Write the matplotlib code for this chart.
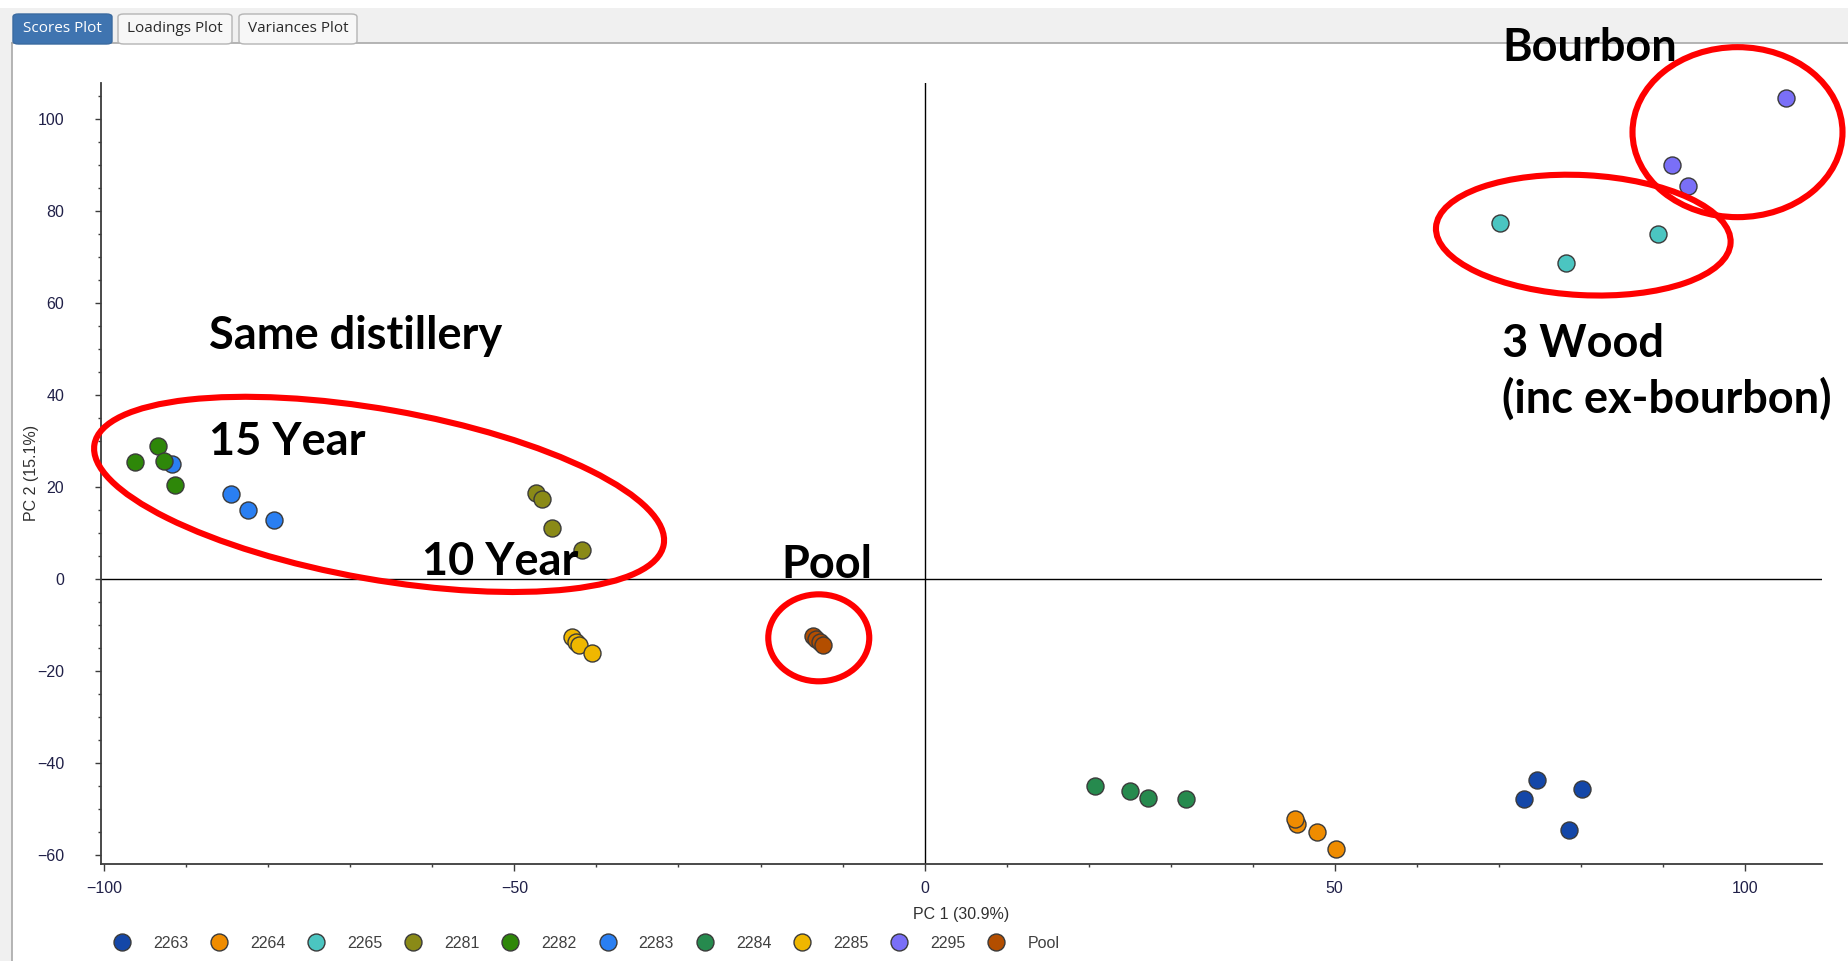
import matplotlib
matplotlib.use("Agg")
import matplotlib.pyplot as plt
from matplotlib.patches import Ellipse, Rectangle, FancyBboxPatch
from matplotlib.lines import Line2D
from matplotlib.transforms import IdentityTransform

W, H = 1849, 961

# sample groups, legend order
groups = ['2263', '2264', '2265', '2281', '2282', '2283', '2284', '2285', '2295', 'Pool']
colors = ['#1447a8', '#ef8c00', '#4bc5c1', '#8a8a17', '#2e8709',
          '#2a7ff2', '#268a4e', '#efb700', '#7a6ff7', '#b34e00']

# PCA scores per group
pc1 = [
    [74.7, 80.2, 73.1, 78.6],
    [45.4, 45.1, 47.8, 50.1],
    [70.1, 78.2, 89.4],
    [-47.4, -46.6, -45.4, -41.8],
    [-96.3, -93.5, -92.7, -91.4],
    [-91.8, -84.5, -82.5, -79.3],
    [20.8, 25.1, 27.2, 31.9],
    [-43.0, -42.5, -42.1, -40.5],
    [105.0, 91.1, 93.1],
    [-13.6, -13.2, -12.8, -12.4],
]
pc2 = [
    [-43.8, -45.6, -47.9, -54.6],
    [-53.3, -52.3, -55.1, -58.7],
    [77.4, 68.7, 75.1],
    [18.7, 17.4, 11.0, 6.4],
    [25.4, 29.0, 25.6, 20.5],
    [25.1, 18.5, 15.1, 12.8],
    [-45.1, -46.2, -47.7, -47.9],
    [-12.6, -13.8, -14.4, -16.2],
    [104.6, 90.0, 85.4],
    [-12.3, -13.1, -13.8, -14.4],
]

# circled clusters: centre (data), width/height in pixels, angle
rings_center = [(-66.5, 18.4), (-12.9, -12.8), (80.3, 74.8), (99.1, 97.2)]
rings_size = [(578, 170), (101, 87), (295, 120), (210, 170)]
rings_angle = [-10, 0, -3, 0]

# annotations: text, x, y (data, left/baseline)
notes = ['Bourbon', '3 Wood', '(inc ex-bourbon)', 'Same distillery', '15 Year', '10 Year', 'Pool']
notes_x = [70.4, 70.4, 70.4, -87.2, -87.2, -61.3, -17.5]
notes_y = [112.6, 48.2, 36.1, 50.0, 26.9, 0.8, 0.3]

tabs = ['Scores Plot', 'Loadings Plot', 'Variances Plot']

plt.rcParams['font.family'] = ['Liberation Sans', 'DejaVu Sans']

fig = plt.figure(figsize=(W / 100, H / 100), dpi=100)
fig.patch.set_facecolor('white')


def px(x0, y0, x1, y1):
    # pixel box (y down) -> figure fraction rect
    return (x0 / W, 1 - y1 / H), (x1 - x0) / W, (y1 - y0) / H


# window chrome: tab strip and panel border, kept behind the axes
xy, w, h = px(0, 8, W, 43)
fig.add_artist(Rectangle(xy, w, h, transform=fig.transFigure, color='#f0f0f0', lw=0, zorder=-5))
xy, w, h = px(0, 43, 12, H)
fig.add_artist(Rectangle(xy, w, h, transform=fig.transFigure, color='#f0f0f0', lw=0, zorder=-5))
fig.add_artist(Line2D([12 / W, 1], [1 - 43 / H, 1 - 43 / H], transform=fig.transFigure,
                      color='#a8a8a8', lw=1.2, zorder=-4))
fig.add_artist(Line2D([12 / W, 12 / W], [0, 1 - 43 / H], transform=fig.transFigure,
                      color='#a8a8a8', lw=1.2, zorder=-4))

tab_boxes = [(13, 112), (118, 232), (239, 357)]
for k, (name, (x0, x1)) in enumerate(zip(tabs, tab_boxes)):
    xy, w, h = px(x0, 14, x1, 44)
    sel = k == 0
    fig.add_artist(FancyBboxPatch(xy, w, h, boxstyle='round,pad=0,rounding_size=0.003',
                                  transform=fig.transFigure, zorder=-3,
                                  facecolor='#3f74b0' if sel else '#f7f7f7',
                                  edgecolor='#3a6aa0' if sel else '#b4b4b4', lw=1))
    fig.text((x0 + x1) / 2 / W, 1 - 29 / H, name, ha='center', va='center',
             fontsize=11, family=['Open Sans', 'DejaVu Sans'], zorder=-2,
             color='white' if sel else '#2a2a2a')

ax = fig.add_axes([101 / W, 1 - 864 / H, (1822 - 101) / W, (864 - 82.5) / H])
ax.set_xlim(-100.4, 109.4)
ax.set_ylim(-62.0, 108.0)

for sp in ['top', 'right']:
    ax.spines[sp].set_visible(False)
for sp in ['left', 'bottom']:
    ax.spines[sp].set_color('#3c3c3c')
    ax.spines[sp].set_linewidth(1.3)

ax.axhline(0, color='black', lw=1, zorder=1)
ax.axvline(0, color='black', lw=1, zorder=1)

ax.set_xticks([-100, -50, 0, 50, 100])
ax.set_xticks(range(-100, 110, 10), minor=True)
ax.set_yticks(range(-60, 101, 20))
ax.set_yticks(range(-60, 106, 5), minor=True)
ax.tick_params(which='major', direction='out', length=4.5, width=1, color='#3c3c3c',
               labelsize=11.5, labelcolor='#202048')
ax.tick_params(which='minor', direction='out', length=2.2, width=1, color='#3c3c3c')
ax.tick_params(axis='x', which='major', length=5, pad=7)
ax.tick_params(axis='y', which='major', pad=22)

ax.set_xlabel('PC 1 (30.9%)', fontsize=11.5, color='#303030', labelpad=8)
ax.set_ylabel('PC 2 (15.1%)', fontsize=11.5, color='#303030')
ax.yaxis.set_label_coords(-0.036, 0.5)

handles = []
for k, (g, c) in enumerate(zip(groups, colors)):
    z = 4 if g == '2282' else 3
    ax.scatter(pc1[k], pc2[k], s=150, color=c, edgecolor='#3a3a3a', lw=1, zorder=z)
    handles.append(Line2D([], [], ls='none', marker='o', markersize=12.2,
                          markerfacecolor=c, markeredgecolor='#3a3a3a', markeredgewidth=1,
                          label=g))

fig.legend(handles=handles, loc='center left', bbox_to_anchor=(114 / W, 1 - 943 / H),
           ncol=10, frameon=False, fontsize=11.5, labelcolor='#404040',
           handlelength=1.0, handletextpad=1.45, columnspacing=1.42, borderpad=0,
           borderaxespad=0)

fig.canvas.draw()
for (cx, cy), (w, h), ang in zip(rings_center, rings_size, rings_angle):
    dx, dy = ax.transData.transform((cx, cy))
    fig.add_artist(Ellipse((dx, dy), w, h, angle=ang, transform=IdentityTransform(),
                           fill=False, edgecolor='#ff0000', lw=4.4, zorder=6))

for t, x, y in zip(notes, notes_x, notes_y):
    ax.text(x, y, t, ha='left', va='baseline', fontsize=32.5, fontweight='bold',
            family=['Lato', 'DejaVu Sans'], color='black', clip_on=False, zorder=7)

fig.savefig('out.png', dpi=100)
